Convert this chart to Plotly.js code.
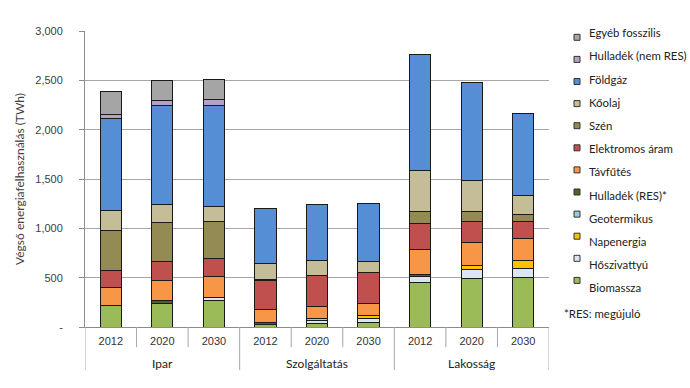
<!DOCTYPE html>
<html><head><meta charset="utf-8">
<script src="https://cdn.plot.ly/plotly-3.0.1.min.js"></script>
<style>html,body{margin:0;padding:0;background:#fff}#chart{width:690px;height:388px}</style>
</head><body><div id="chart"></div>
<script>
const groups = ["Ipar","Ipar","Ipar","Szolgáltatás","Szolgáltatás","Szolgáltatás","Lakosság","Lakosság","Lakosság"];
const years = ["2012","2020","2030","2012","2020","2030","2012","2020","2030"];

const biomassza    = [216, 243, 266, 30, 40, 42, 446, 496, 500];
const hoszivattyu  = [0, 0, 28, 0, 30, 45, 67, 90, 98];
const napenergia   = [0, 0, 0, 0, 15, 25, 0, 35, 74];
const geotermikus  = [0, 0, 9, 0, 6, 6, 0, 0, 0];
const hulladekRes  = [0, 30, 0, 20, 0, 0, 20, 0, 0];
const tavfutes     = [182, 199, 209, 125, 118, 125, 257, 240, 226];
const elektromos   = [172, 187, 186, 297, 311, 310, 260, 209, 172];
const szen         = [413, 405, 375, 14, 0, 0, 118, 98, 71];
const koolaj       = [195, 175, 149, 162, 152, 106, 416, 321, 196];
const foldgaz      = [939, 1003, 1026, 558, 574, 597, 1175, 993, 831];
const hulladekNem  = [41, 54, 61, 0, 0, 0, 0, 0, 0];
const egyeb        = [229, 203, 197, 0, 0, 0, 0, 0, 0];

const yTickVals = [0, 500, 1000, 1500, 2000, 2500, 3000];
const yTickText = ["-", "500", "1,000", "1,500", "2,000", "2,500", "3,000"];

const series = [
  ["Biomassza", biomassza, "#9bbb59"],
  ["Hőszivattyú", hoszivattyu, "#dce6f2"],
  ["Napenergia", napenergia, "#ffc000"],
  ["Geotermikus", geotermikus, "#93cddd"],
  ["Hulladék (RES)*", hulladekRes, "#4f6228"],
  ["Távfűtés", tavfutes, "#f79646"],
  ["Elektromos áram", elektromos, "#c0504d"],
  ["Szén", szen, "#948a54"],
  ["Kőolaj", koolaj, "#c4bd97"],
  ["Földgáz", foldgaz, "#558ed5"],
  ["Hulladék (nem RES)", hulladekNem, "#b3a2c7"],
  ["Egyéb fosszilis", egyeb, "#a5a5a5"]
];

const cats = groups.map((g, i) => g + " " + years[i]);

const traces = series.map(([name, vals, color]) => ({
  type: "bar", name: name, x: cats, y: vals.map(v => v === 0 ? null : v),
  marker: {color: color, line: {color: "#1a1a1a", width: 1}},
  showlegend: false, hoverinfo: "name+y"
}));

// plot-area geometry (pixels) used to place axis decorations and legend
const W = 690, H = 388, L = 85, R = 141, T = 31, B = 61;
const PW = W - L - R, PH = H - T - B;
const px2x = p => (p - L) / PW;
const py2y = p => (H - B - p) / PH;

const shapes = [];
const annotations = [];
const divColor = "#a6a6a6";
for (let i = 0; i <= cats.length; i++) {
  const isGroupEdge = i === 0 || i === cats.length || groups[i] !== groups[i - 1];
  shapes.push({
    type: "line", xref: "x", yref: "paper", x0: i - 0.5, x1: i - 0.5,
    y0: 0, y1: isGroupEdge ? -0.145 : -0.068,
    line: {color: divColor, width: 1}
  });
}
const uniqueGroups = [...new Set(groups)];
uniqueGroups.forEach(g => {
  const idx = groups.map((v, i) => v === g ? i : -1).filter(i => i >= 0);
  const mid = (idx[0] + idx[idx.length - 1]) / 2;
  annotations.push({
    text: g, xref: "x", yref: "paper", x: mid, y: -0.122,
    xanchor: "center", yanchor: "middle", showarrow: false,
    font: {family: "Lato, Open Sans, sans-serif", size: 12, color: "#222"}
  });
});

// legend (top entry = last series), Excel-like layout
const legendFont = {family: "Lato, Open Sans, sans-serif", size: 11.4, color: "#222"};
series.slice().reverse().forEach(([name, vals, color], k) => {
  const my = 37.3 + 22.1 * k;
  const ty = 32.7 + 23.2 * k;
  shapes.push({
    type: "rect", xref: "paper", yref: "paper",
    x0: px2x(574), x1: px2x(580), y0: py2y(my + 3), y1: py2y(my - 3),
    fillcolor: color, line: {color: "#333", width: 1}
  });
  annotations.push({
    text: name, xref: "paper", yref: "paper", x: px2x(587), y: py2y(ty),
    xanchor: "left", yanchor: "middle", showarrow: false, font: legendFont
  });
});
annotations.push({
  text: "*RES: megújuló", xref: "paper", yref: "paper", x: px2x(562), y: py2y(313),
  xanchor: "left", yanchor: "middle", showarrow: false, font: legendFont
});

const layout = {
  width: W, height: H,
  margin: {l: L, r: R, t: T, b: B, pad: 0},
  paper_bgcolor: "#fff", plot_bgcolor: "#fff",
  barmode: "stack", bargap: 0.59, showlegend: false,
  font: {family: "Liberation Sans, Arial, sans-serif", size: 11, color: "#333"},
  xaxis: {
    type: "category", tickvals: cats, ticktext: years,
    showline: true, linecolor: "#8c8c8c", linewidth: 1,
    ticks: "", ticklabelstandoff: 4,
    tickfont: {family: "Liberation Sans, Arial, sans-serif", size: 11, color: "#333"},
    showgrid: false, fixedrange: true, range: [-0.5, cats.length - 0.5]
  },
  yaxis: {
    range: [0, 3000], tickvals: yTickVals, ticktext: yTickText,
    showgrid: true, gridcolor: "#a6a6a6", gridwidth: 1,
    showline: true, linecolor: "#8c8c8c", linewidth: 1,
    ticks: "outside", ticklen: 5, tickcolor: "#8c8c8c", ticklabelstandoff: 14,
    zeroline: false,
    tickfont: {family: "Liberation Sans, Arial, sans-serif", size: 11, color: "#404040"},
    title: {text: "Végső energiafelhasználás (TWh)", standoff: 8,
            font: {family: "Lato, Open Sans, sans-serif", size: 12, color: "#404040"}},
    fixedrange: true
  },
  shapes: shapes,
  annotations: annotations
};

Plotly.newPlot("chart", traces, layout, {displayModeBar: false, staticPlot: true});
</script></body></html>
